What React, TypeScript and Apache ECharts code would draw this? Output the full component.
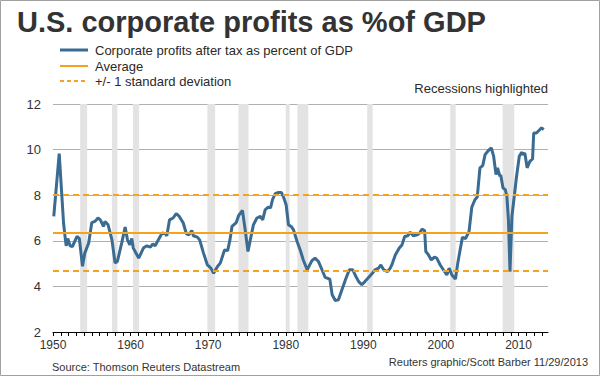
import React, { useEffect, useRef } from "react";
import * as echarts from "echarts";

const years: number[] = [
  1950.1, 1950.8, 1951.36, 1951.6, 1951.7, 1951.9, 1952.2, 1952.5, 1953.1, 1953.4,
  1953.8, 1954.1, 1954.6, 1955.0, 1955.4, 1955.8, 1956.1, 1956.5, 1956.7, 1957.1,
  1957.6, 1958.0, 1958.3, 1958.85, 1959.3, 1959.6, 1959.9, 1960.15, 1960.35, 1961.05,
  1961.65, 1962.1, 1962.55, 1962.87, 1963.17, 1963.57, 1964.07, 1964.47, 1964.67, 1965.02,
  1965.48, 1965.88, 1966.28, 1966.79, 1967.19, 1967.49, 1967.89, 1968.09, 1968.6, 1968.9,
  1969.4, 1969.9, 1970.35, 1970.7, 1971.2, 1971.56, 1972.11, 1972.51, 1972.81, 1973.07,
  1973.62, 1973.92, 1974.42, 1974.77, 1975.13, 1975.43, 1975.83, 1976.28, 1976.73, 1977.03,
  1977.34, 1977.74, 1978.04, 1978.29, 1978.64, 1979.05, 1979.45, 1979.75, 1980.05, 1980.35,
  1980.7, 1981.0, 1981.46, 1981.86, 1982.26, 1982.76, 1983.37, 1983.77, 1984.22, 1984.67,
  1985.07, 1985.68, 1985.98, 1986.38, 1986.79, 1987.24, 1987.69, 1988.19, 1988.64, 1988.94,
  1989.4, 1989.8, 1990.2, 1990.7, 1991.1, 1991.51, 1991.96, 1992.26, 1992.62, 1993.12,
  1993.47, 1993.67, 1994.12, 1994.63, 1994.98, 1995.33, 1995.74, 1996.04, 1996.44, 1996.95,
  1997.25, 1997.55, 1997.9, 1998.05, 1998.4, 1998.76, 1999.16, 1999.46, 1999.91, 2000.31,
  2000.76, 2001.06, 2001.42, 2001.87, 2002.17, 2002.47, 2002.77, 2003.17, 2003.62, 2003.98,
  2004.38, 2004.68, 2005.03, 2005.39, 2005.69, 2006.14, 2006.49, 2006.79, 2007.1, 2007.3,
  2007.6, 2007.7, 2008.0, 2008.3, 2008.5, 2008.7, 2008.9, 2009.15, 2009.4, 2009.75,
  2010.1, 2010.41, 2010.61, 2010.81, 2011.11, 2011.46, 2011.81, 2011.96, 2012.31, 2012.66,
  2012.96, 2013.26,
];

const profits: number[] = [
  7.07, 9.82, 6.78, 6.04, 5.78, 6.1, 5.78, 5.75, 6.19, 6.1,
  4.88, 5.46, 5.9, 6.8, 6.85, 7.0, 6.92, 6.63, 6.85, 6.7,
  6.04, 5.02, 5.1, 5.9, 6.6, 6.04, 5.82, 6.1, 5.68, 5.24,
  5.68, 5.78, 5.72, 5.87, 5.78, 6.04, 6.34, 6.31, 6.22, 6.92,
  7.0, 7.19, 7.07, 6.78, 6.31, 6.26, 6.45, 6.22, 6.16, 6.04,
  5.46, 4.94, 4.8, 4.58, 4.87, 5.02, 5.6, 5.57, 6.04, 6.63,
  6.8, 7.1, 7.33, 6.48, 5.53, 6.04, 6.7, 7.0, 7.07, 6.92,
  7.36, 7.48, 7.44, 7.8, 8.07, 8.12, 8.12, 7.88, 7.58, 6.7,
  6.63, 6.48, 5.97, 5.6, 5.16, 4.73, 5.13, 5.24, 5.09, 4.73,
  4.4, 4.32, 3.63, 3.38, 3.41, 3.85, 4.29, 4.73, 4.73, 4.5,
  4.21, 4.07, 4.21, 4.4, 4.55, 4.73, 4.8, 4.94, 4.73, 4.65,
  4.8, 4.94, 5.38, 5.68, 5.82, 6.19, 6.22, 6.38, 6.22, 6.26,
  6.34, 6.51, 6.45, 5.53, 5.38, 5.16, 5.28, 5.24, 4.94, 4.73,
  4.5, 4.8, 4.5, 4.32, 5.02, 5.6, 6.15, 6.1, 6.4, 7.48,
  7.8, 7.92, 9.2, 9.3, 9.78, 9.97, 10.08, 9.71, 8.9, 9.2,
  8.83, 8.9, 8.32, 8.24, 7.95, 6.92, 4.65, 7.07, 7.8, 8.83,
  9.71, 9.88, 9.78, 9.85, 9.2, 9.48, 9.59, 10.73, 10.73, 10.85,
  10.95, 10.88,
];

const recessionStarts: number[] = [1953.5, 1957.6, 1960.3, 1969.9, 1973.9, 1980.0, 1981.5, 1990.5, 2001.2, 2007.95];
const recessionEnds: number[] = [1954.4, 1958.3, 1961.1, 1970.9, 1975.2, 1980.5, 1982.9, 1991.2, 2001.9, 2009.45];

const averageValue = 6.35;
const sdUpper = 8.0;
const sdLower = 4.7;

const legendLabels: string[] = [
  "Corporate profits after tax as percent of GDP",
  "Average",
  "+/- 1 standard deviation",
];

const FONT = "'Liberation Sans', Arial, sans-serif";
const BLUE = "#3a6b93";
const ORANGE = "#f5a21f";

export default function App() {
  const ref = useRef<HTMLDivElement>(null);

  useEffect(() => {
    document.body.style.margin = "0";
    const chart = echarts.init(ref.current!, null, { renderer: "svg" });

    const legendYs = [50, 66, 81];
    const legendGraphics: any[] = [];
    legendLabels.forEach((label, i) => {
      legendGraphics.push({
        type: "line",
        shape: { x1: 60, y1: legendYs[i], x2: 88, y2: legendYs[i] },
        style: {
          stroke: i === 0 ? BLUE : ORANGE,
          lineWidth: i === 0 ? 3 : 2,
          lineDash: i === 2 ? [4, 3] : null,
        },
      });
      legendGraphics.push({
        type: "text",
        x: 95,
        y: legendYs[i],
        style: {
          text: label,
          font: `13px ${FONT}`,
          fill: "#2a2a2a",
          textVerticalAlign: "middle",
        },
      });
    });

    chart.setOption({
      animation: false,
      backgroundColor: "#fff",
      grid: { left: 53, right: 52, top: 104, bottom: 44, containLabel: false },
      xAxis: {
        type: "value",
        min: 1950,
        max: 2013.8,
        interval: 1,
        axisLine: { show: true, lineStyle: { color: "#000", width: 1 } },
        axisTick: { show: true, length: 4, lineStyle: { color: "#000" } },
        splitLine: { show: false },
        axisLabel: {
          margin: 7,
          color: "#333",
          fontSize: 12,
          fontFamily: FONT,
          formatter: (v: number) => (Math.abs(v % 10) < 1e-6 ? String(Math.round(v)) : ""),
          showMaxLabel: false,
        },
      },
      yAxis: {
        type: "value",
        min: 2,
        max: 12,
        interval: 2,
        axisLine: { show: false },
        axisTick: { show: false },
        splitLine: { show: true, lineStyle: { color: "#b0b0b0", width: 1 } },
        axisLabel: { margin: 12, color: "#333", fontSize: 13, fontFamily: FONT },
      },
      series: [
        {
          type: "line",
          data: years.map((y, i) => [y, profits[i]]),
          showSymbol: false,
          symbol: "none",
          lineStyle: { color: BLUE, width: 3 },
          z: 3,
          markArea: {
            silent: true,
            itemStyle: { color: "#e3e3e3" },
            data: recessionStarts.map((s, i) => [{ xAxis: s }, { xAxis: recessionEnds[i] }]),
          },
          markLine: {
            silent: true,
            symbol: "none",
            label: { show: false },
            data: [
              { yAxis: averageValue, lineStyle: { color: ORANGE, width: 2, type: "solid" } },
              { yAxis: sdUpper, lineStyle: { color: ORANGE, width: 2, type: [6, 4] } },
              { yAxis: sdLower, lineStyle: { color: ORANGE, width: 2, type: [6, 4] } },
            ],
          },
        },
      ],
      graphic: [
        {
          type: "rect",
          shape: { x: 0.5, y: 0.5, width: 599, height: 375 },
          style: { fill: "none", stroke: "#a0a0a0", lineWidth: 1 },
          silent: true,
        },
        {
          type: "text",
          x: 17,
          y: 22,
          style: {
            text: "U.S. corporate profits as %of GDP",
            font: `bold 29px ${FONT}`,
            fill: "#333",
            textVerticalAlign: "middle",
          },
        },
        ...legendGraphics,
        {
          type: "text",
          x: 548,
          y: 88,
          style: {
            text: "Recessions highlighted",
            font: `13px ${FONT}`,
            fill: "#2a2a2a",
            textAlign: "right",
            textVerticalAlign: "middle",
          },
        },
        {
          type: "text",
          x: 52,
          y: 367,
          style: {
            text: "Source: Thomson Reuters Datastream",
            font: `11px ${FONT}`,
            fill: "#333",
            textVerticalAlign: "middle",
          },
        },
        {
          type: "text",
          x: 588,
          y: 362,
          style: {
            text: "Reuters graphic/Scott Barber 11/29/2013",
            font: `11px ${FONT}`,
            fill: "#333",
            textAlign: "right",
            textVerticalAlign: "middle",
          },
        },
      ],
    });

    return () => chart.dispose();
  }, []);

  return <div ref={ref} style={{ width: 600, height: 376 }} />;
}
